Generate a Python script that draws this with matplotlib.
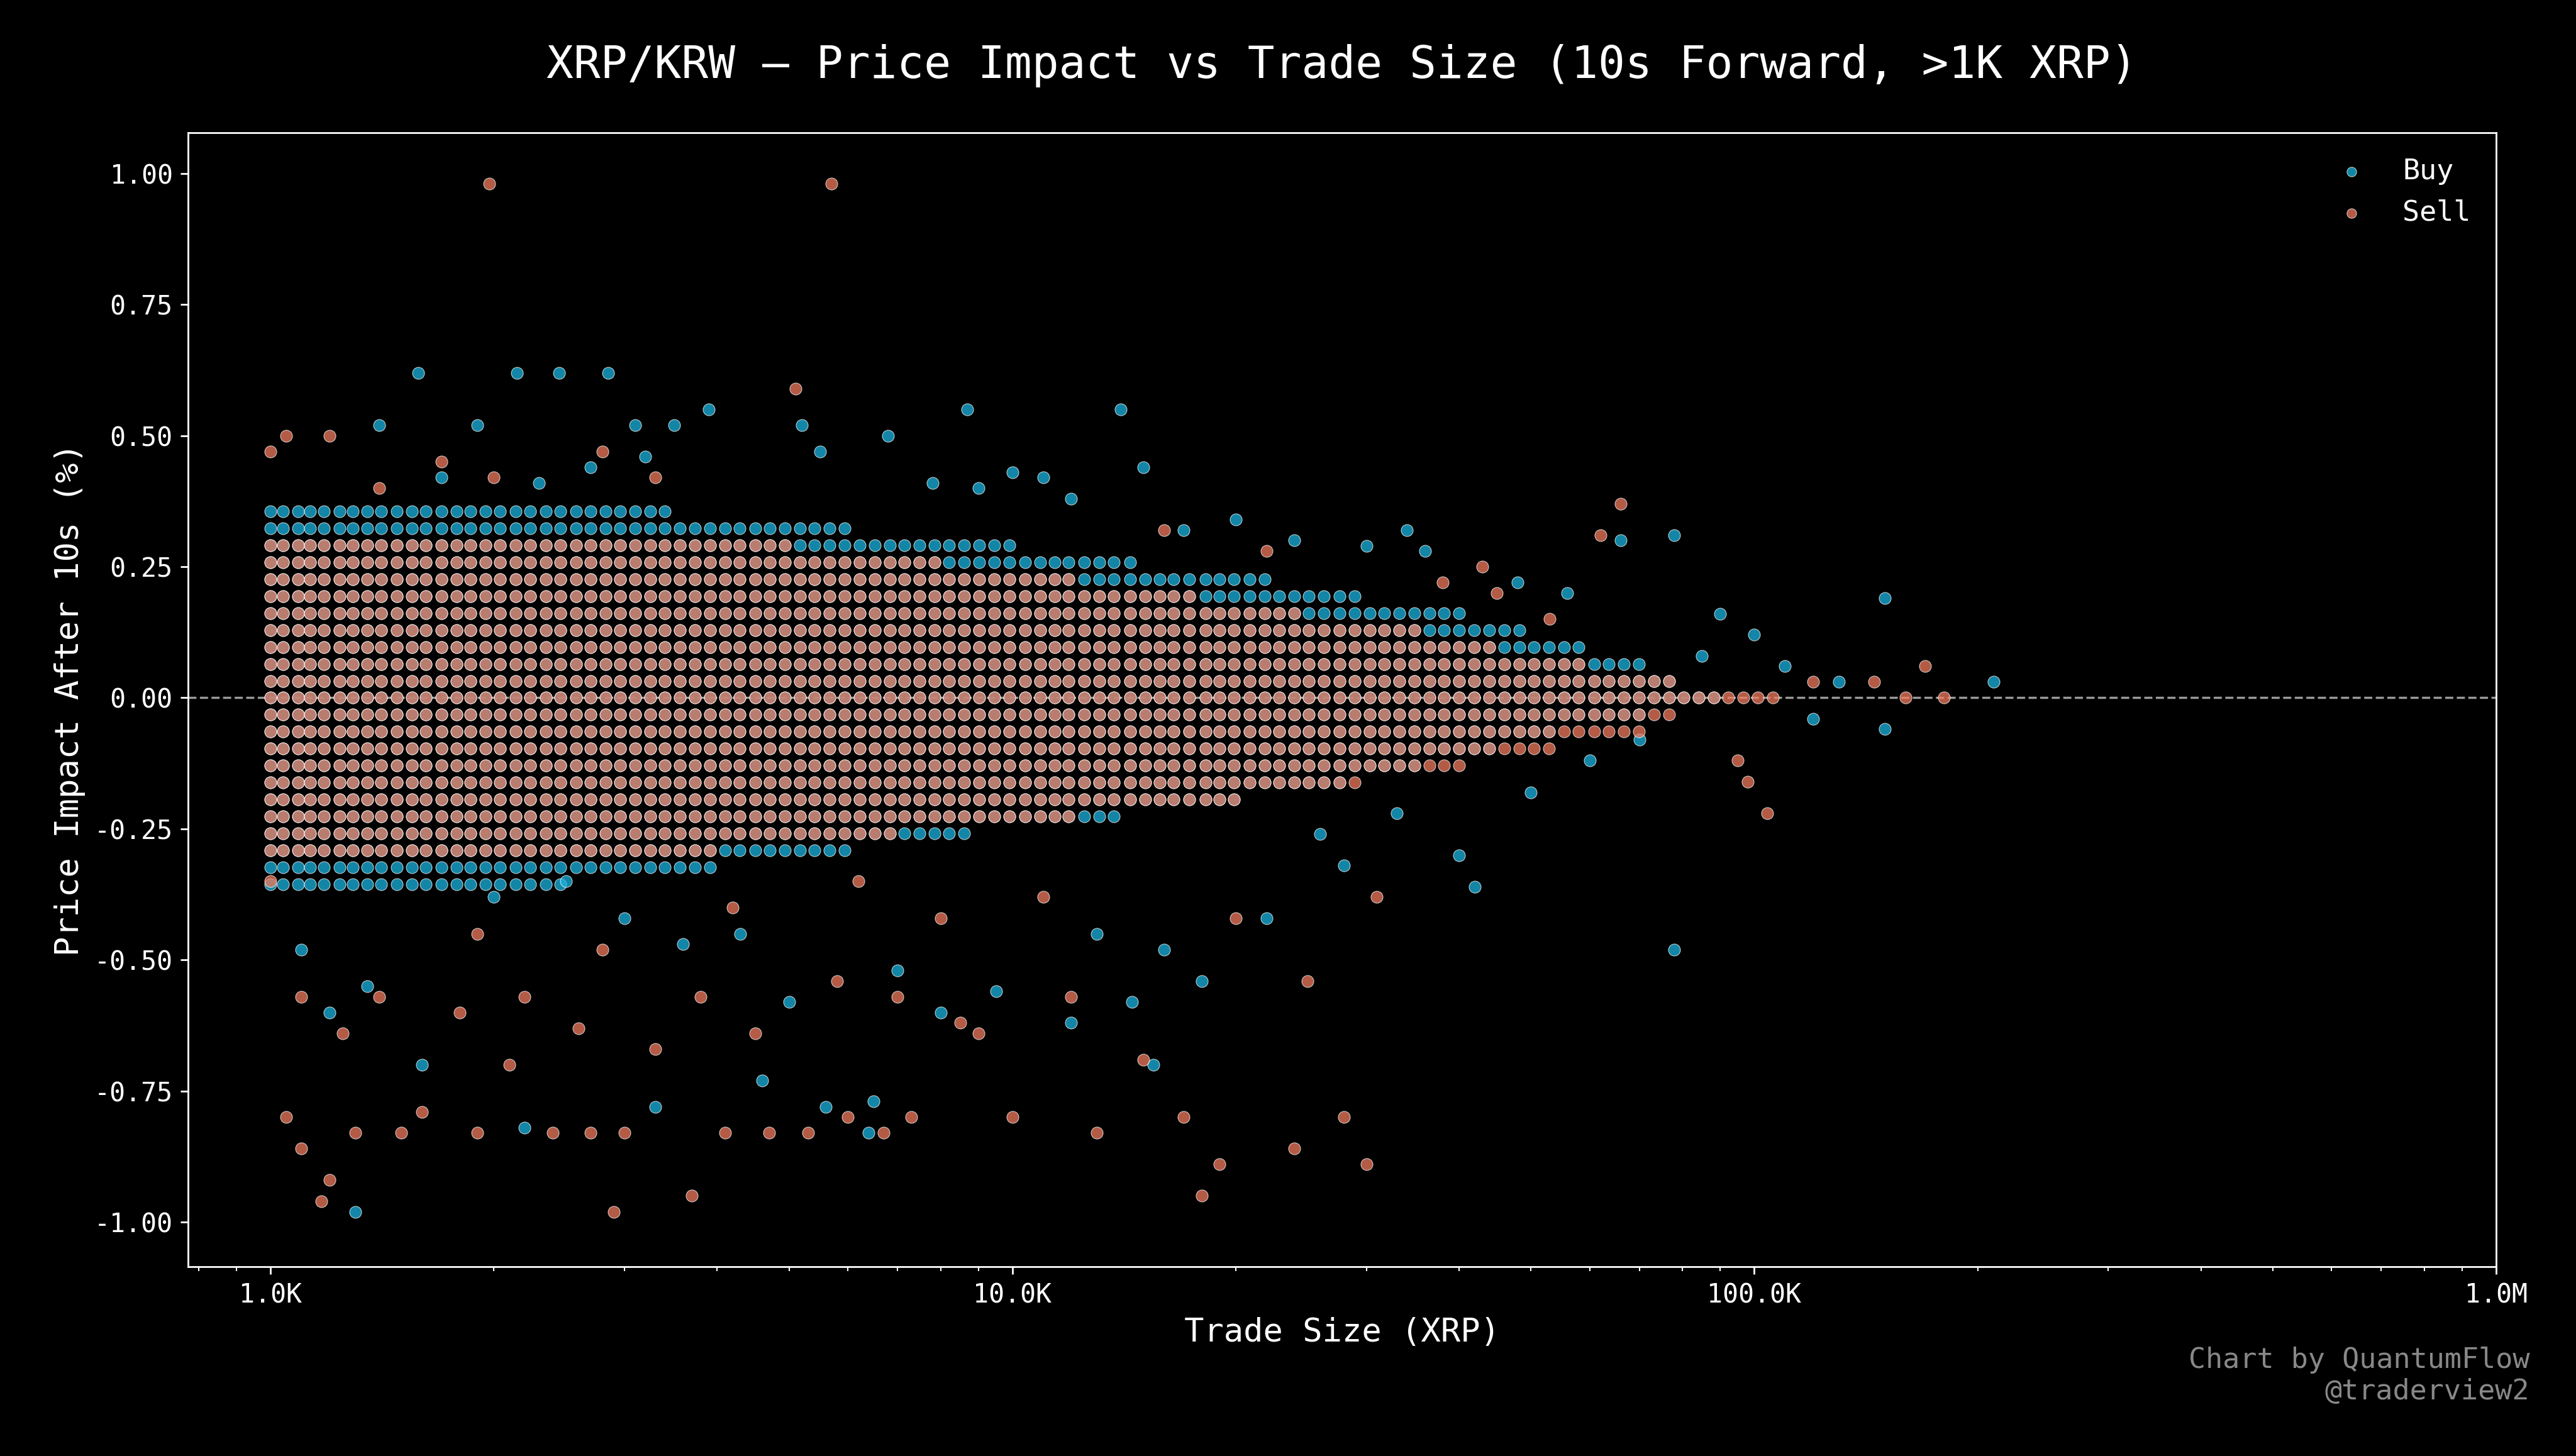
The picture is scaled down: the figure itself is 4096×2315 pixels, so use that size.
import matplotlib
matplotlib.use("Agg")
import matplotlib.pyplot as plt
from matplotlib.ticker import FuncFormatter

plt.rcParams["font.family"] = "DejaVu Sans Mono"

# price tick step (% of price) and dense band description
tick_step = 0.0323
size_grid = [1000, 1040, 1090, 1130, 1180, 1240, 1290, 1350, 1410, 1480, 1550, 1620, 1700,
             1780, 1860, 1950, 2040, 2140, 2240, 2350, 2460, 2580, 2700, 2830, 2960, 3100,
             3250, 3400, 3560, 3730, 3910, 4100, 4290, 4500, 4710, 4930, 5170, 5410, 5670,
             5940, 6220, 6520, 6830, 7150, 7490, 7850, 8220, 8610, 9020, 9450, 9900, 10400,
             10900, 11400, 11900, 12500, 13100, 13700, 14400, 15100, 15800, 16500, 17300,
             18200, 19000, 19900, 20900, 21900, 22900, 24000, 25100, 26300, 27600, 28900,
             30300, 31700, 33200, 34800, 36500, 38200, 40000, 41900, 43900, 46000, 48200,
             50500, 52900, 55400, 58000, 60800, 63700, 66700, 69900, 73200, 76700, 80300,
             84100, 88100, 92300, 96700, 101000, 106000, 111000]

buy_band_levels = [-11, -10, -9, -8, -7, -6, -5, -4, -3, -2, -1, 0, 1, 2, 3, 4, 5, 6, 7, 8, 9, 10, 11]
buy_band_reach = [2500, 4000, 6000, 9000, 14000, 20000, 28000, 36000, 45000, 55000, 70000, 90000,
                  80000, 70000, 60000, 50000, 40000, 30000, 22000, 15000, 10000, 6000, 3500]
sell_band_levels = [-9, -8, -7, -6, -5, -4, -3, -2, -1, 0, 1, 2, 3, 4, 5, 6, 7, 8, 9]
sell_band_reach = [4000, 7000, 12000, 20000, 30000, 40000, 55000, 70000, 80000, 110000,
                   80000, 60000, 45000, 35000, 25000, 18000, 12000, 8000, 5000]

buy_out_size = [1580, 2150, 2450, 2850, 1400, 1900, 3100, 3500, 3900, 5200, 5500, 6800, 8700, 14000,
                1300, 1200, 1100, 1350, 4300, 5000, 6500, 6400, 9500, 14500, 18000, 16000, 22000,
                28000, 42000, 40000, 78000, 78000, 66000, 150000, 150000, 210000, 130000, 100000,
                90000, 56000, 48000, 36000, 34000, 30000, 24000, 20000, 17000, 15000, 12000, 11000,
                10000, 9000, 7800, 3200, 2700, 2300, 1700, 2000, 2500, 3000, 3600, 7000, 1600, 2200,
                3300, 4600, 5600, 8000, 12000, 13000, 15500, 26000, 33000, 50000, 60000, 70000,
                85000, 110000, 120000]
buy_out_val = [0.62, 0.62, 0.62, 0.62, 0.52, 0.52, 0.52, 0.52, 0.55, 0.52, 0.47, 0.50, 0.55, 0.55,
               -0.98, -0.60, -0.48, -0.55, -0.45, -0.58, -0.77, -0.83, -0.56, -0.58, -0.54, -0.48,
               -0.42, -0.32, -0.36, -0.30, -0.48, 0.31, 0.30, 0.19, -0.06, 0.03, 0.03, 0.12, 0.16,
               0.20, 0.22, 0.28, 0.32, 0.29, 0.30, 0.34, 0.32, 0.44, 0.38, 0.42, 0.43, 0.40, 0.41,
               0.46, 0.44, 0.41, 0.42, -0.38, -0.35, -0.42, -0.47, -0.52, -0.70, -0.82, -0.78,
               -0.73, -0.78, -0.60, -0.62, -0.45, -0.70, -0.26, -0.22, -0.18, -0.12, -0.08, 0.08,
               0.06, -0.04]

sell_out_size = [1970, 5700, 5100, 1000, 1050, 1200, 1700, 2800, 3300, 66000, 62000, 43000, 1050,
                 1100, 1200, 1170, 1300, 1500, 1600, 1900, 2100, 2400, 2700, 3000, 2900, 3700, 4100,
                 4700, 5300, 6000, 6700, 7300, 10000, 13000, 17000, 19000, 18000, 24000, 28000,
                 30000, 31000, 25000, 20000, 12000, 15000, 9000, 8500, 7000, 5800, 4500, 3800, 3300,
                 2600, 2200, 1800, 1400, 1250, 1100, 1000, 1900, 2800, 4200, 6200, 8000, 11000,
                 104000, 98000, 95000, 180000, 170000, 160000, 145000, 120000, 53000, 45000, 38000,
                 22000, 16000, 2000, 1400]
sell_out_val = [0.98, 0.98, 0.59, 0.47, 0.50, 0.50, 0.45, 0.47, 0.42, 0.37, 0.31, 0.25, -0.80,
                -0.86, -0.92, -0.96, -0.83, -0.83, -0.79, -0.83, -0.70, -0.83, -0.83, -0.83, -0.98,
                -0.95, -0.83, -0.83, -0.83, -0.80, -0.83, -0.80, -0.80, -0.83, -0.80, -0.89, -0.95,
                -0.86, -0.80, -0.89, -0.38, -0.54, -0.42, -0.57, -0.69, -0.64, -0.62, -0.57, -0.54,
                -0.64, -0.57, -0.67, -0.63, -0.57, -0.60, -0.57, -0.64, -0.57, -0.35, -0.45, -0.48,
                -0.40, -0.35, -0.42, -0.38, -0.22, -0.16, -0.12, 0.00, 0.06, 0.00, 0.03, 0.03, 0.15,
                0.20, 0.22, 0.28, 0.32, 0.42, 0.40]


def band_points(levels, reach):
    xs, ys = [], []
    for lvl, r in zip(levels, reach):
        for s in size_grid:
            if s <= r:
                xs.append(s)
                ys.append(lvl * tick_step)
    return xs, ys


buy_x, buy_y = band_points(buy_band_levels, buy_band_reach)
sell_x, sell_y = band_points(sell_band_levels, sell_band_reach)
buy_x += buy_out_size
buy_y += buy_out_val
sell_x += sell_out_size
sell_y += sell_out_val

fig = plt.figure(figsize=(16.384, 9.26), dpi=250, facecolor="black")
ax = fig.add_axes([0.073, 0.13, 0.896, 0.779], facecolor="black")

kw = dict(s=30, alpha=0.75, edgecolors="white", linewidths=0.3)
ax.scatter(buy_x, buy_y, color="#1ab4e0", label="Buy", **kw)
ax.scatter(sell_x, sell_y, color="#f27a5e", label="Sell", **kw)
ax.axhline(0, color="#999999", lw=1, ls="--", zorder=0.5)

ax.set_xscale("log")
ax.set_xlim(774, 1.0e6)
ax.set_ylim(-1.085, 1.078)
ax.set_yticks([-1.0, -0.75, -0.5, -0.25, 0.0, 0.25, 0.5, 0.75, 1.0])
ax.yaxis.set_major_formatter(FuncFormatter(lambda v, p: f"{v:.2f}"))


def kfmt(v, p):
    if v >= 1e6:
        return f"{v/1e6:.1f}M"
    return f"{v/1e3:.1f}K"


ax.xaxis.set_major_formatter(FuncFormatter(kfmt))
for sp in ax.spines.values():
    sp.set_color("white")
ax.tick_params(colors="white", labelsize=12, which="both")

ax.set_xlabel("Trade Size (XRP)", color="white", fontsize=15)
ax.set_ylabel("Price Impact After 10s (%)", color="white", fontsize=15)
fig.text(0.521, 0.955, "XRP/KRW — Price Impact vs Trade Size (10s Forward, >1K XRP)",
         color="white", fontsize=20.5, ha="center", va="center")

leg = ax.legend(loc="upper right", frameon=False, fontsize=13, markerscale=0.8)
for t in leg.get_texts():
    t.set_color("white")

fig.text(0.982, 0.035, "Chart by QuantumFlow\n@traderview2", color="#888888",
         fontsize=13, ha="right", va="bottom")

fig.savefig("out.png", dpi=250, facecolor="black")
